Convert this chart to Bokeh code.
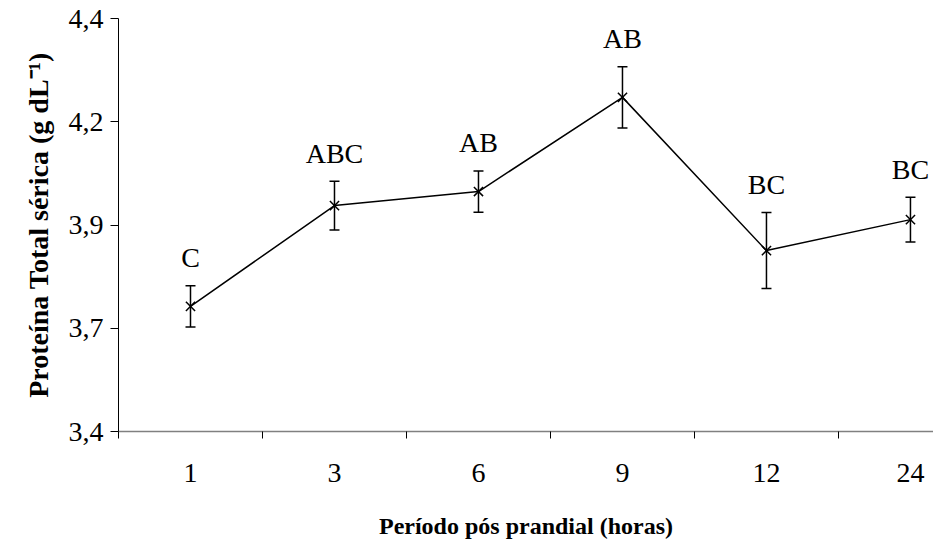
from bokeh.plotting import figure
from bokeh.models import ColumnDataSource, Whisker, TeeHead, FixedTicker
from bokeh.core.properties import value
from bokeh.embed import file_html
from bokeh.resources import INLINE

# Data
periods = ["1", "3", "6", "9", "12", "24"]
means = [3.703, 3.947, 3.981, 4.209, 3.838, 3.913]
errors = [0.050, 0.059, 0.050, 0.074, 0.092, 0.054]
letters = ["C", "ABC", "AB", "AB", "BC", "BC"]
y_ticks = [3.4, 3.65, 3.9, 4.15, 4.4]
y_tick_labels = ["3,4", "3,7", "3,9", "4,2", "4,4"]

FONT = "Liberation Serif"

xs = [i + 0.5 for i in range(len(periods))]
upper = [m + e for m, e in zip(means, errors)]
lower = [m - e for m, e in zip(means, errors)]
src = ColumnDataSource(dict(x=xs, y=means, upper=upper, lower=lower, letter=letters))

p = figure(width=933, height=542, output_backend="svg", toolbar_location=None,
           x_range=(0, 5.66), y_range=(3.4, 4.4))
p.min_border_left = 118
p.min_border_right = 0
p.min_border_top = 18
p.min_border_bottom = 111
p.outline_line_color = None
p.xgrid.grid_line_color = None
p.ygrid.grid_line_color = None
p.background_fill_color = "white"
p.border_fill_color = "white"

# error bars
wh = Whisker(base="x", upper="upper", lower="lower", source=src,
             line_color="black", line_width=1.5,
             upper_head=TeeHead(size=10, line_color="black", line_width=1.5),
             lower_head=TeeHead(size=10, line_color="black", line_width=1.5))
p.add_layout(wh)

p.line("x", "y", source=src, line_color="black", line_width=1.5)
p.scatter("x", "y", source=src, marker="x", size=13, line_color="black", line_width=1.5)

p.text("x", "upper", text="letter", source=src, y_offset=-28,
       text_align="center", text_baseline="middle",
       text_font=value(FONT), text_font_size="28px", text_color="black")

# x axis
xa = p.xaxis[0]
xa.ticker = FixedTicker(ticks=xs, minor_ticks=list(range(len(periods) + 1)))
xa.major_label_overrides = {x: lab for x, lab in zip(xs, periods)}
xa.major_tick_out = 0
xa.major_tick_in = 0
xa.minor_tick_out = 7
xa.minor_tick_in = 0
xa.minor_tick_line_color = "black"
xa.axis_line_color = "#808080"
xa.axis_line_width = 1.5
xa.major_label_text_font = FONT
xa.major_label_text_font_size = "28px"
xa.major_label_text_color = "black"
xa.major_label_standoff = 25
xa.axis_label = "Período pós prandial (horas)"
xa.axis_label_text_font = FONT
xa.axis_label_text_font_style = "bold"
xa.axis_label_text_font_size = "24px"
xa.axis_label_text_color = "black"
xa.axis_label_standoff = 28

# y axis
ya = p.yaxis[0]
ya.ticker = FixedTicker(ticks=y_ticks)
ya.major_label_overrides = {t: lab for t, lab in zip(y_ticks, y_tick_labels)}
ya.minor_tick_line_color = None
ya.major_tick_out = 8
ya.major_tick_in = 0
ya.major_tick_line_color = "black"
ya.axis_line_color = "black"
ya.major_label_text_font = FONT
ya.major_label_text_font_size = "28px"
ya.major_label_text_color = "black"
ya.major_label_standoff = 7
ya.axis_label = "Proteína Total sérica (g dL⁻¹)"
ya.axis_label_text_font = FONT
ya.axis_label_text_font_style = "bold"
ya.axis_label_text_font_size = "28px"
ya.axis_label_text_color = "black"
ya.axis_label_standoff = 12

open("out.html", "w").write(file_html(p, INLINE))
